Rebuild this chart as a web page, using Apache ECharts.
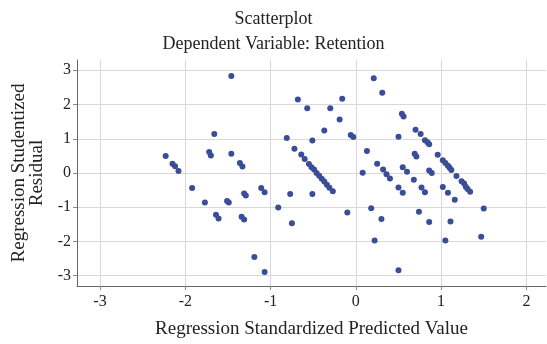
<!DOCTYPE html>
<html>
<head>
<meta charset="utf-8">
<script src="https://cdn.jsdelivr.net/npm/echarts@6/dist/echarts.min.js"></script>
<style>html,body{margin:0;padding:0;background:#fff}#c{width:547px;height:344px}</style>
</head>
<body>
<div id="c"></div>
<script>
// Regression Standardized Predicted Value
var predicted = [-2.23,-2.15,-2.12,-2.08,-1.92,-1.77,-1.72,-1.70,-1.66,-1.64,-1.61,-1.46,-1.46,-1.51,-1.49,-1.36,-1.33,-1.31,-1.29,-1.34,-1.31,-1.11,-1.07,-1.19,-1.07,-0.91,-0.81,-0.77,-0.75,-0.72,-0.68,-0.64,-0.60,-0.57,-0.55,-0.52,-0.51,-0.51,-0.49,-0.46,-0.43,-0.40,-0.37,-0.37,-0.34,-0.31,-0.30,-0.27,-0.19,-0.16,-0.10,-0.06,-0.03,0.08,0.13,0.18,0.21,0.22,0.25,0.30,0.31,0.32,0.36,0.40,0.50,0.50,0.50,0.54,0.55,0.55,0.56,0.60,0.68,0.69,0.70,0.71,0.74,0.76,0.77,0.81,0.81,0.84,0.86,0.86,0.86,0.89,0.96,1.02,1.02,1.05,1.05,1.08,1.08,1.10,1.11,1.12,1.16,1.18,1.24,1.27,1.29,1.31,1.34,1.47,1.50];
// Regression Studentized Residual
var residual = [0.50,0.27,0.20,0.06,-0.44,-0.86,0.61,0.51,1.14,-1.22,-1.33,2.83,0.56,-0.82,-0.86,0.29,0.19,-0.60,-0.66,-1.28,-1.36,-0.44,-0.56,-2.45,-2.89,-1.01,1.02,-0.61,-1.47,0.71,2.15,0.54,0.41,1.89,0.26,0.17,0.95,-0.61,0.10,0.00,-0.08,-0.17,1.24,-0.25,-0.34,-0.43,1.89,-0.53,1.56,2.17,-1.15,1.11,1.05,0.01,0.64,-1.03,2.77,-1.97,0.27,-1.34,2.34,0.10,-0.04,-0.16,1.06,-0.42,-2.84,1.73,0.17,-0.58,1.65,0.04,-0.20,0.56,1.26,0.48,-1.13,1.14,-0.42,-0.56,0.96,0.90,0.84,0.07,-1.43,0.00,0.53,0.37,-0.41,0.29,-1.97,0.21,-0.58,0.15,-1.42,0.09,-0.78,-0.09,-0.24,-0.31,-0.40,-0.47,-0.55,-1.86,-1.04];
var xTicks = [-3,-2,-1,0,1,2];
var yTicks = [-3,-2,-1,0,1,2,3];

var pts = predicted.map(function(x,i){return [x, residual[i]];});
var serif = '"Liberation Serif","DejaVu Serif",serif';
var chart = echarts.init(document.getElementById('c'), null, {renderer:'canvas'});
chart.setOption({
  animation:false,
  title:[
    {text:'Scatterplot', left:'center', top:5, textStyle:{fontFamily:serif, fontSize:18, fontWeight:'normal', color:'#222'}},
    {text:'Dependent Variable: Retention', left:'center', top:30, textStyle:{fontFamily:serif, fontSize:18, fontWeight:'normal', color:'#222'}}
  ],
  grid:{left:77, right:1, top:60, bottom:57, containLabel:false},
  xAxis:{
    type:'value', min:-3.27, max:2.23,
    name:'Regression Standardized Predicted Value', nameLocation:'middle', nameGap:34,
    nameTextStyle:{fontFamily:serif, fontSize:19, color:'#222'},
    axisLine:{show:true, onZero:false, lineStyle:{color:'#666', width:1}},
    axisTick:{show:true, customValues:xTicks, length:4, lineStyle:{color:'#888'}},
    axisLabel:{customValues:xTicks, fontFamily:serif, fontSize:16, color:'#222', margin:8},
    splitLine:{show:true, lineStyle:{color:'#d8d8d8', width:1}}
  },
  yAxis:{
    type:'value', min:-3.3, max:3.3,
    name:'Regression Studentized\nResidual', nameLocation:'middle', nameGap:30, nameRotate:90,
    nameTextStyle:{fontFamily:serif, fontSize:19, color:'#222', lineHeight:18},
    axisLine:{show:true, onZero:false, lineStyle:{color:'#666', width:1}},
    axisTick:{show:true, customValues:yTicks, length:4, lineStyle:{color:'#888'}},
    axisLabel:{customValues:yTicks, fontFamily:serif, fontSize:16, color:'#222', margin:6},
    splitLine:{show:true, lineStyle:{color:'#d8d8d8', width:1}}
  },
  series:[{
    type:'scatter', data:pts, symbolSize:6,
    itemStyle:{color:'#3b4c98', opacity:1}
  }]
});
</script>
</body>
</html>
